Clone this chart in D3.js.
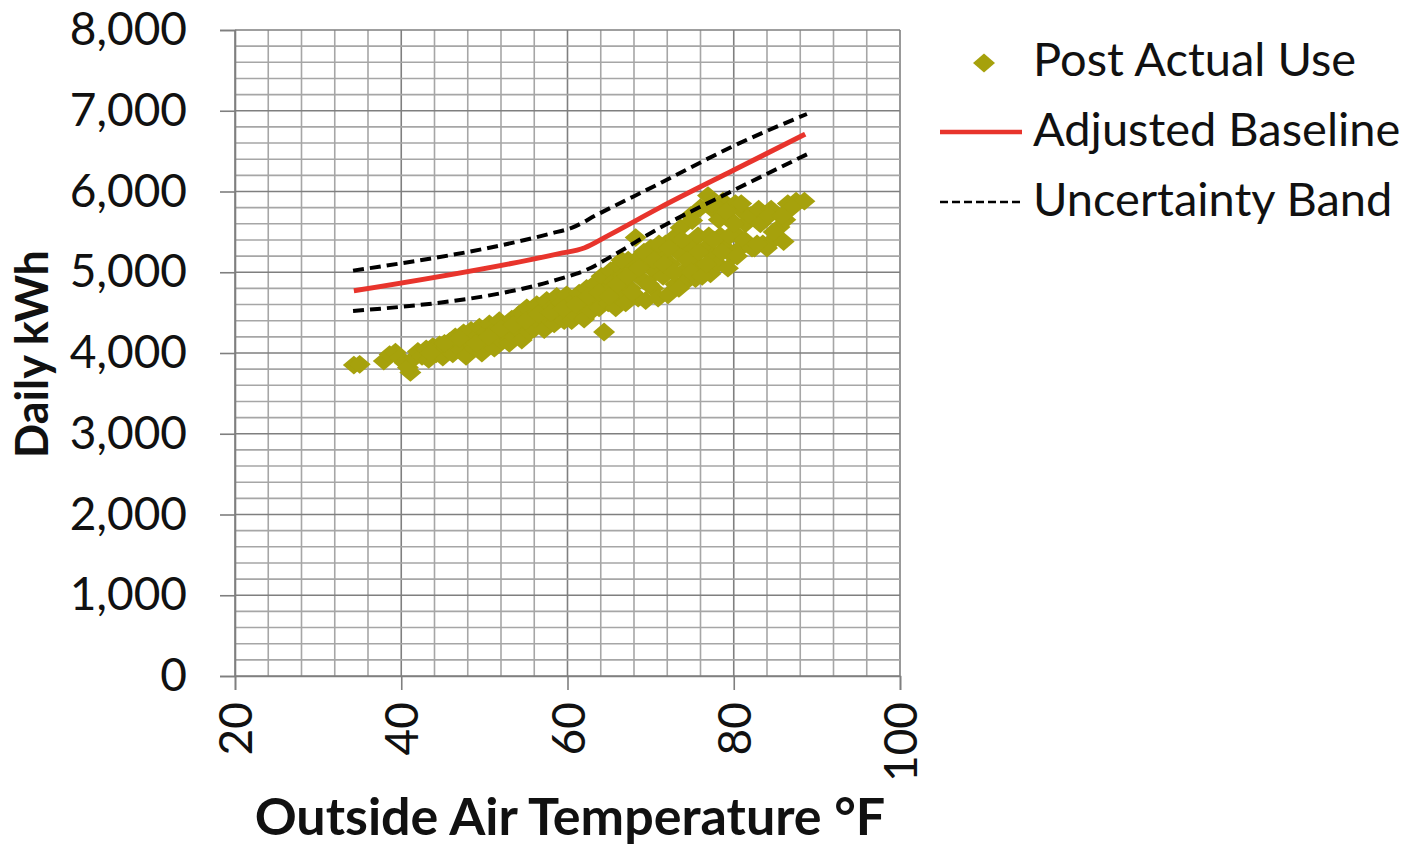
<!DOCTYPE html>
<html>
<head>
<meta charset="utf-8">
<script src="https://cdn.jsdelivr.net/npm/d3@7"></script>
<style>
  html, body { margin: 0; padding: 0; background: #fff; }
  svg { display: block; }
  text { font-family: Lato, "Open Sans", sans-serif; fill: #111; }
</style>
</head>
<body>
<svg id="chart" width="1406" height="848"></svg>
<script>
// ---------- data ----------
const xTicks = [20, 40, 60, 80, 100];
const yTicks = [0, 1000, 2000, 3000, 4000, 5000, 6000, 7000, 8000];
const seriesNames = ["Post Actual Use", "Adjusted Baseline", "Uncertainty Band"];

// Post Actual Use: [temperature °F, daily kWh]
const postTemp = [
  34.3, 35.0, 37.9, 38.6, 39.3, 39.8, 40.4, 41.1, 40.8,
  41.6, 42.0, 42.5, 43.0, 43.3, 43.8, 44.2, 44.6, 45.0, 45.4, 45.8, 46.2, 46.5,
  46.8, 47.2, 47.5, 47.8, 48.1, 48.4, 48.8, 49.1, 49.4, 49.7, 50.0, 50.3, 50.6, 50.9, 51.2, 51.5, 51.8, 52.1, 52.4,
  52.7, 53.0, 53.3, 53.6, 53.9, 54.2, 54.5, 54.8, 55.1, 55.4, 55.7, 56.0, 56.3, 56.6, 56.9, 57.2, 57.5, 57.8, 58.1, 58.4, 58.7,
  59.0, 59.3, 59.6, 59.9, 60.2, 60.5, 60.8, 61.1, 61.4, 61.7, 62.0, 62.3, 62.6, 62.9, 63.2, 63.5, 63.8, 64.1, 64.4, 64.6, 64.9,
  65.2, 65.5, 65.8, 66.1, 66.4, 66.7, 67.0, 67.3, 67.6, 67.9, 68.2, 68.5, 68.8, 69.1, 69.4, 69.7, 70.0, 70.3, 70.6, 70.9,
  71.2, 71.5, 71.8, 72.1, 72.4, 72.7, 73.0, 73.3, 73.6, 73.9, 74.2, 74.5, 74.8, 75.1, 75.4, 75.7, 76.0, 76.3, 76.6, 76.9, 77.2, 77.5, 77.8,
  78.1, 78.4, 78.7, 79.0, 79.3, 79.6, 79.9, 80.2, 80.5, 80.8, 81.1, 81.4, 81.7, 82.0, 82.5, 83.0, 83.5, 84.0, 84.5, 85.0, 85.5, 86.0, 86.5, 87.5, 88.5,
  43.5, 45.2, 47.0, 49.0, 50.5, 52.0, 53.5, 55.0, 56.5, 58.0, 59.5, 61.0, 62.5, 63.8,
  65.0, 66.0, 66.5, 67.2, 67.8, 68.6, 69.2, 69.8, 70.4, 71.0,
  71.6, 72.2, 72.8, 73.4, 73.8, 74.4, 74.9, 75.0, 75.8, 76.2, 76.7, 77.0, 77.4, 77.6,
  78.2, 78.6, 79.1, 79.5, 80.0, 80.4, 80.9, 81.3, 82.2, 82.8, 83.2, 84.2, 84.8, 86.2, 87.0, 85.8
];
const postKwh = [
  3850, 3860, 3900, 3980, 4010, 3940, 3880, 3760, 3820,
  3940, 4020, 3960, 4050, 3920, 4080, 3990, 4100, 3950, 4060, 4140, 3990, 4200,
  4100, 4040, 4250, 3960, 4150, 4280, 4060, 4200, 4320, 4000, 4120, 4260, 4360, 4180, 4060, 4300, 4400, 4150, 4240,
  4350, 4120, 4420, 4200, 4300, 4480, 4160, 4380, 4560, 4260, 4450, 4300, 4600, 4380, 4520, 4290, 4650, 4420, 4560, 4360, 4700,
  4480, 4620, 4400, 4720, 4540, 4400, 4650, 4460, 4740, 4560, 4420, 4800, 4620, 4520, 4850, 4700, 4560, 4950, 4260, 4780, 4620,
  5020, 4880, 4560, 5080, 4720, 4960, 4620, 5150, 4800, 5000, 5430, 4680, 5200, 4900, 4650, 5100, 5300, 4800, 5000, 4680,
  5200, 4950, 5350, 4720, 5100, 5420, 4850, 5250, 5550, 5000, 4880, 5350, 5700, 5150, 4920, 5450, 5800, 5050, 5300, 5950, 4980, 5200, 5750,
  5100, 5450, 5880, 5300, 5050, 5650, 5200, 5850, 5450, 5300, 5750, 5600, 5350, 5700, 5300, 5780, 5350, 5300, 5780, 5420, 5560, 5380, 5850, 5880, 5880,
  4000, 4120, 4180, 4120, 4200, 4300, 4350, 4400, 4480, 4500, 4550, 4600, 4700, 4750,
  4700, 4850, 5150, 4950, 4750, 5050, 5250, 4850, 5150, 5350,
  5100, 5300, 5000, 4800, 5400, 5150, 5000, 5640, 5250, 4950, 5100, 5450, 5850, 5400,
  5650, 5250, 5750, 5450, 5600, 5200, 5850, 5400, 5300, 5350, 5600, 5700, 5500, 5650, 5800, 5700
];

// Adjusted Baseline and Uncertainty Band
const baseTemp  = [34.3, 59.0, 62.0, 65.0, 71.1, 79.9, 88.6];
const baseKwh   = [4770, 5230, 5300, 5460, 5800, 6260, 6710];
const upperTemp = [34.2, 58.0, 60.5, 63.5, 71.1, 79.9, 88.8];
const upperKwh  = [5020, 5480, 5550, 5710, 6100, 6560, 6960];
const lowerTemp = [34.2, 61.0, 62.5, 65.0, 71.1, 79.9, 88.8];
const lowerKwh  = [4520, 4980, 5040, 5180, 5550, 6010, 6460];

// ---------- layout ----------
const svg = d3.select("#chart");
const plot = { left: 235, right: 900, top: 30, bottom: 676 };
const x = d3.scaleLinear().domain([20, 100]).range([plot.left, plot.right]);
const y = d3.scaleLinear().domain([0, 8000]).range([plot.bottom, plot.top]);

const OLIVE = "#a6a10c";
const RED = "#e8342c";

// gridlines
const grid = svg.append("g");
grid.selectAll("line.vminor").data(d3.range(20, 101, 4)).join("line")
  .attr("x1", d => x(d)).attr("x2", d => x(d))
  .attr("y1", plot.top).attr("y2", plot.bottom)
  .attr("stroke", d => d % 20 === 0 ? "#7f7f7f" : "#a6a6a6")
  .attr("stroke-width", 1.6);
grid.selectAll("line.hminor").data(d3.range(0, 8001, 200)).join("line")
  .attr("y1", d => y(d)).attr("y2", d => y(d))
  .attr("x1", plot.left).attr("x2", plot.right)
  .attr("stroke", d => d % 1000 === 0 ? "#7f7f7f" : "#a6a6a6")
  .attr("stroke-width", 1.6);

// axes
const yAxis = svg.append("g").attr("transform", `translate(${plot.left},0)`)
  .call(d3.axisLeft(y).tickValues(yTicks).tickFormat(d3.format(",")).tickSize(15).tickPadding(33));
const xAxis = svg.append("g").attr("transform", `translate(0,${plot.bottom})`)
  .call(d3.axisBottom(x).tickValues(xTicks).tickFormat(d3.format("d")).tickSize(14));
[yAxis, xAxis].forEach(a => {
  a.select(".domain").attr("stroke", "#7f7f7f").attr("stroke-width", 1.6);
  a.selectAll(".tick line").attr("stroke", "#7f7f7f").attr("stroke-width", 1.6);
  a.selectAll(".tick text").attr("font-family", "Lato, sans-serif").attr("font-size", 46).attr("fill", "#111");
});
xAxis.selectAll(".tick text")
  .attr("transform", "rotate(-90)")
  .attr("text-anchor", "end")
  .attr("x", -26).attr("y", 0).attr("dy", "0.36em");

// diamond symbol (square rotated, slightly wider than tall as in the source)
const diamond = {
  draw(ctx, size) {
    const w = 11, h = 9.4;
    ctx.moveTo(0, -h); ctx.lineTo(w, 0); ctx.lineTo(0, h); ctx.lineTo(-w, 0); ctx.closePath();
  }
};
const sym = d3.symbol().type(diamond);

// scatter
const pts = postTemp.map((t, i) => ({ t, v: postKwh[i] }));
svg.append("g").selectAll("path").data(pts).join("path")
  .attr("d", sym())
  .attr("transform", d => `translate(${x(d.t)},${y(d.v)})`)
  .attr("fill", OLIVE);

// lines
const line = d3.line().x(d => x(d[0])).y(d => y(d[1])).curve(d3.curveMonotoneX);
const zip = (a, b) => a.map((v, i) => [v, b[i]]);
svg.append("path").datum(zip(upperTemp, upperKwh)).attr("d", line)
  .attr("fill", "none").attr("stroke", "#000").attr("stroke-width", 4).attr("stroke-dasharray", "11,6");
svg.append("path").datum(zip(lowerTemp, lowerKwh)).attr("d", line)
  .attr("fill", "none").attr("stroke", "#000").attr("stroke-width", 4).attr("stroke-dasharray", "11,6");
svg.append("path").datum(zip(baseTemp, baseKwh)).attr("d", line)
  .attr("fill", "none").attr("stroke", RED).attr("stroke-width", 5);

// axis titles
svg.append("text").attr("x", 570).attr("y", 835).attr("text-anchor", "middle")
  .attr("font-weight", "bold").attr("font-size", 52).text("Outside Air Temperature °F");
svg.append("text").attr("transform", "translate(48,354) rotate(-90)").attr("text-anchor", "middle")
  .attr("font-weight", "bold").attr("font-size", 45).text("Daily kWh");

// legend
const leg = svg.append("g");
leg.append("path").attr("d", sym()).attr("transform", "translate(984,63)").attr("fill", OLIVE);
leg.append("line").attr("x1", 940).attr("x2", 1022).attr("y1", 132).attr("y2", 132)
  .attr("stroke", RED).attr("stroke-width", 4.5);
leg.append("line").attr("x1", 940).attr("x2", 1022).attr("y1", 202).attr("y2", 202)
  .attr("stroke", "#000").attr("stroke-width", 2.5).attr("stroke-dasharray", "8,4");
leg.selectAll("text").data(seriesNames).join("text")
  .attr("x", 1033).attr("y", (d, i) => 76 + i * 70)
  .attr("font-size", 47).text(d => d);
</script>
</body>
</html>
